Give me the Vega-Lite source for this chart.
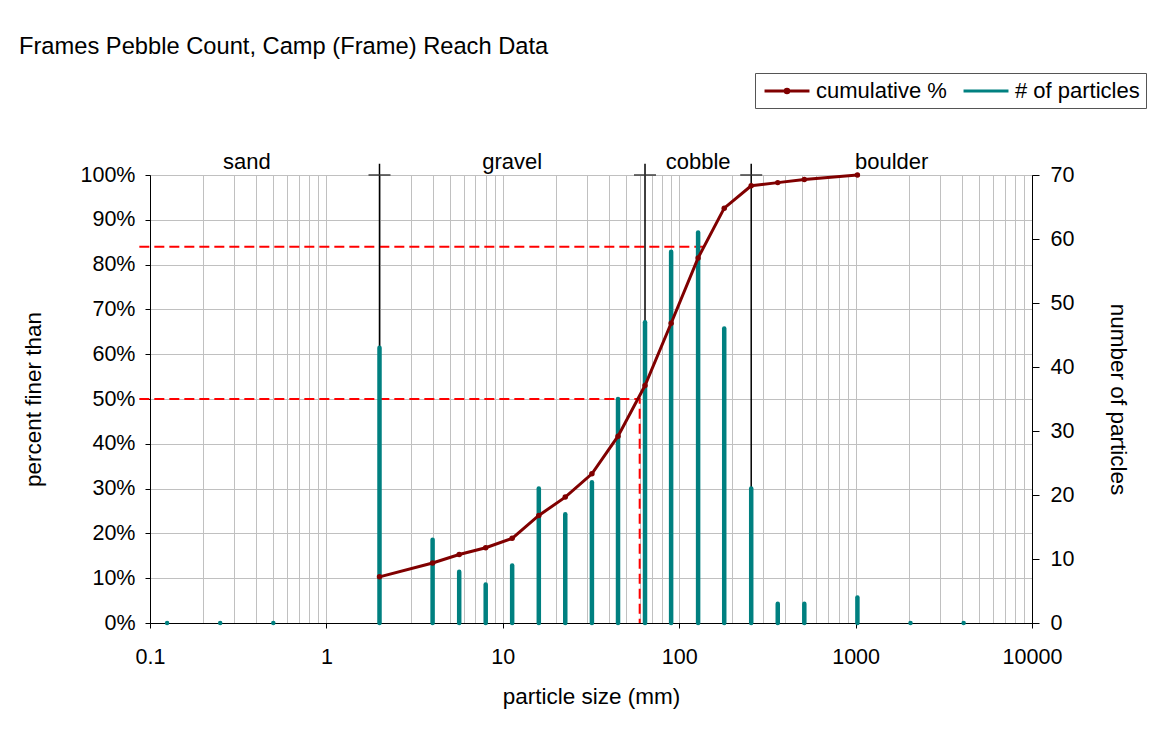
{
  "$schema": "https://vega.github.io/schema/vega-lite/v6.json",
  "width": 882,
  "height": 448,
  "autosize": {"type": "none"},
  "padding": {"left": 150, "top": 175, "right": 126, "bottom": 118},
  "background": "white",
  "title": {
    "text": "Frames Pebble Count, Camp (Frame) Reach Data",
    "anchor": "start",
    "frame": "group",
    "font": "Liberation Sans",
    "fontSize": 23.7,
    "fontWeight": "normal",
    "color": "#000",
    "dx": -131,
    "offset": 14
  },
  "datasets": {
    "pebbles": [
      {"size": 0.125, "count": 0, "cum": null},
      {"size": 0.25, "count": 0, "cum": null},
      {"size": 0.5, "count": 0, "cum": null},
      {"size": 2, "count": 43, "cum": 10.3},
      {"size": 4, "count": 13, "cum": 13.4},
      {"size": 5.66, "count": 8, "cum": 15.3},
      {"size": 8, "count": 6, "cum": 16.8},
      {"size": 11.3, "count": 9, "cum": 18.9},
      {"size": 16, "count": 21, "cum": 24.0},
      {"size": 22.6, "count": 17, "cum": 28.1},
      {"size": 32, "count": 22, "cum": 33.3},
      {"size": 45, "count": 35, "cum": 41.7},
      {"size": 64, "count": 47, "cum": 53.0},
      {"size": 90, "count": 58, "cum": 66.9},
      {"size": 128, "count": 61, "cum": 81.5},
      {"size": 180, "count": 46, "cum": 92.6},
      {"size": 256, "count": 21, "cum": 97.6},
      {"size": 362, "count": 3, "cum": 98.3},
      {"size": 512, "count": 3, "cum": 99.0},
      {"size": 1024, "count": 4, "cum": 100},
      {"size": 2048, "count": 0, "cum": null},
      {"size": 4096, "count": 0, "cum": null}
    ],
    "dashes": [
      {"g": "d84", "size": 0.087, "pct": 84, "o": 1},
      {"g": "d84", "size": 139.5, "pct": 84, "o": 2},
      {"g": "d50", "size": 0.087, "pct": 50, "o": 1},
      {"g": "d50", "size": 59.7, "pct": 50, "o": 2},
      {"g": "d50", "size": 59.7, "pct": 0, "o": 3}
    ],
    "bounds": [{"size": 2}, {"size": 64}, {"size": 256}],
    "classes": [
      {"label": "sand", "size": 0.354},
      {"label": "gravel", "size": 11.3},
      {"label": "cobble", "size": 128},
      {"label": "boulder", "size": 1600}
    ],
    "legendrows": [{"series": "cumulative %", "size": 1}, {"series": "# of particles", "size": 1}]
  },
  "encoding": {
    "x": {
      "field": "size",
      "type": "quantitative",
      "scale": {"type": "log", "domain": [0.1, 10000]},
      "title": "particle size (mm)",
      "axis": {
        "values": [0.1, 0.2, 0.3, 0.4, 0.5, 0.6, 0.7, 0.8, 0.9, 1, 2, 3, 4, 5, 6, 7, 8, 9, 10, 20, 30, 40, 50, 60, 70, 80, 90, 100, 200, 300, 400, 500, 600, 700, 800, 900, 1000, 2000, 3000, 4000, 5000, 6000, 7000, 8000, 9000, 10000],
        "format": "~g",
        "labelExpr": "indexof([0.1, 1, 10, 100, 1000, 10000], datum.value) >= 0 ? datum.label : ''",
        "tickOpacity": {"condition": {"test": "indexof([0.1, 1, 10, 100, 1000, 10000], datum.value) >= 0", "value": 1}, "value": 0},
        "grid": true,
        "tickSize": 5,
        "labelPadding": 18,
        "titlePadding": 18
      }
    }
  },
  "layer": [
    {
      "data": {"name": "dashes"},
      "mark": {"type": "line", "color": "#ff0000", "strokeWidth": 2, "strokeDash": [10, 5]},
      "encoding": {
        "y": {
          "field": "pct",
          "type": "quantitative",
          "scale": {"domain": [0, 100], "nice": false},
          "title": "percent finer than",
          "axis": {
            "orient": "left",
            "values": [0, 10, 20, 30, 40, 50, 60, 70, 80, 90, 100],
            "labelExpr": "datum.value + '%'",
            "grid": true,
            "tickSize": 5,
            "labelPadding": 10,
            "titlePadding": 35
          }
        },
        "detail": {"field": "g"},
        "order": {"field": "o", "type": "quantitative"}
      }
    },
    {
      "data": {"name": "bounds"},
      "mark": {"type": "rule", "color": "#000", "strokeWidth": 1.5},
      "encoding": {
        "y": {"datum": 0, "type": "quantitative", "scale": {"domain": [0, 100], "nice": false}, "axis": null},
        "y2": {"datum": 102.5}
      }
    },
    {
      "data": {"name": "bounds"},
      "mark": {"type": "tick", "orient": "horizontal", "size": 22, "thickness": 2, "color": "#333"},
      "encoding": {
        "y": {"datum": 100, "type": "quantitative", "scale": {"domain": [0, 100], "nice": false}, "axis": null}
      }
    },
    {
      "data": {"name": "pebbles"},
      "mark": {"type": "rule", "color": "#008080", "strokeWidth": 4.5, "strokeCap": "round"},
      "encoding": {
        "y": {
          "field": "count",
          "type": "quantitative",
          "scale": {"domain": [0, 70], "nice": false},
          "axis": {
            "orient": "right",
            "values": [0, 10, 20, 30, 40, 50, 60, 70],
            "grid": false,
            "tickSize": 7,
            "labelPadding": 11,
            "titlePadding": 32,
            "title": "number of particles"
          }
        },
        "y2": {"datum": 0}
      }
    },
    {
      "data": {"name": "classes"},
      "mark": {"type": "text", "font": "Liberation Sans", "fontSize": 22, "color": "#000", "baseline": "alphabetic", "dy": -6},
      "encoding": {
        "y": {"datum": 100, "type": "quantitative", "scale": {"domain": [0, 100], "nice": false}, "axis": null},
        "text": {"field": "label"}
      }
    },
    {
      "data": {"name": "pebbles"},
      "transform": [{"filter": "datum.cum != null"}],
      "mark": {"type": "line", "color": "#800000", "strokeWidth": 3, "point": {"filled": true, "size": 30, "color": "#800000"}},
      "encoding": {
        "y": {"field": "cum", "type": "quantitative", "scale": {"domain": [0, 100], "nice": false}, "axis": null}
      }
    },
    {
      "data": {"name": "legendrows"},
      "mark": {"type": "point", "filled": false, "size": 0, "strokeWidth": 3},
      "encoding": {
        "y": {"datum": 0, "type": "quantitative", "scale": {"domain": [0, 100], "nice": false}, "axis": null},
        "color": {
          "field": "series",
          "type": "nominal",
          "scale": {"domain": ["cumulative %", "# of particles"], "range": ["#800000", "#008080"]},
          "legend": {
            "orient": "none",
            "legendX": 605,
            "legendY": -102,
            "direction": "horizontal",
            "title": null
          }
        },
        "shape": {
          "field": "series",
          "type": "nominal",
          "scale": {
            "domain": ["cumulative %", "# of particles"],
            "range": ["M-2.14,0L2.14,0M0.17,0A0.17,0.17,0,1,1,-0.17,0A0.17,0.17,0,1,1,0.17,0Z", "M-2.14,0L2.14,0"]
          },
          "legend": {
            "orient": "none",
            "legendX": 605,
            "legendY": -102,
            "direction": "horizontal",
            "title": null
          }
        }
      }
    }
  ],
  "resolve": {"scale": {"y": "independent"}},
  "config": {
    "font": "Liberation Sans",
    "view": {"stroke": "#000", "strokeWidth": 1},
    "axis": {
      "labelFont": "Liberation Sans",
      "labelFontSize": 21.5,
      "labelColor": "#000",
      "titleFont": "Liberation Sans",
      "titleFontSize": 22.5,
      "titleFontWeight": "normal",
      "titleColor": "#000",
      "domainColor": "#000",
      "domainWidth": 1,
      "tickColor": "#000",
      "gridColor": "#c0c0c0",
      "gridWidth": 1,
      "labelFlush": false,
      "labelOverlap": false
    },
    "legend": {
      "labelFont": "Liberation Sans",
      "labelFontSize": 22,
      "labelColor": "#000",
      "symbolSize": 441,
      "symbolStrokeWidth": 3,
      "symbolOpacity": 1,
      "symbolOffset": 14,
      "labelOffset": 17,
      "columnPadding": 10,
      "padding": 6,
      "strokeColor": "#555",
      "fillColor": "#fff"
    }
  }
}
